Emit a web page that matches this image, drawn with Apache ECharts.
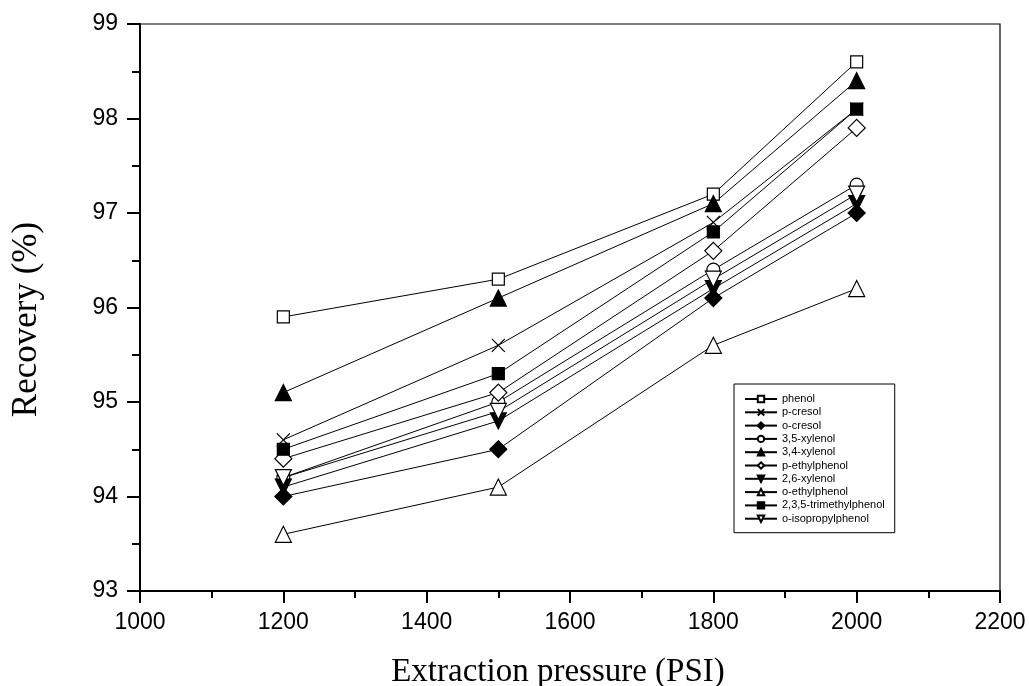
<!DOCTYPE html>
<html>
<head>
<meta charset="utf-8">
<script src="https://cdn.jsdelivr.net/npm/echarts@6/dist/echarts.min.js"></script>
<style>
  html, body { margin: 0; padding: 0; background: #fff; }
  #chart { width: 1030px; height: 686px; }
</style>
</head>
<body>
<div id="chart"></div>
<script>
// Extraction pressure (PSI)
const pressures = [1200, 1500, 1800, 2000];

// Recovery (%) for each compound
const phenol = [95.9, 96.3, 97.2, 98.6];
const pCresol = [94.6, 95.6, 96.9, 98.1];
const oCresol = [94.0, 94.5, 96.1, 97.0];
const xylenol35 = [94.2, 95.0, 96.4, 97.3];
const xylenol34 = [95.1, 96.1, 97.1, 98.4];
const pEthylphenol = [94.4, 95.1, 96.6, 97.9];
const xylenol26 = [94.1, 94.8, 96.2, 97.1];
const oEthylphenol = [93.6, 94.1, 95.6, 96.2];
const trimethylphenol235 = [94.5, 95.3, 96.8, 98.1];
const oIsopropylphenol = [94.2, 94.9, 96.3, 97.2];

const seriesNames = ['phenol', 'p-cresol', 'o-cresol', '3,5-xylenol', '3,4-xylenol',
  'p-ethylphenol', '2,6-xylenol', 'o-ethylphenol', '2,3,5-trimethylphenol', 'o-isopropylphenol'];
const seriesValues = [phenol, pCresol, oCresol, xylenol35, xylenol34,
  pEthylphenol, xylenol26, oEthylphenol, trimethylphenol235, oIsopropylphenol];

// Marker style per compound: [symbol, size, filled]
const CROSS = 'path://M0,0L10,10M10,0L0,10';
const DOWN = 'path://M0,0L10,0L5,9Z';
const markers = [
  ['rect', 12, false],
  [CROSS, 13, false],
  ['diamond', 17, true],
  ['circle', 13, false],
  ['triangle', 16, true],
  ['diamond', 17, false],
  [DOWN, 16, true],
  ['triangle', 16, false],
  ['rect', 12, true],
  [DOWN, 16, false]
];

const series = seriesNames.map((name, i) => {
  const [symbol, size, filled] = markers[i];
  return {
    name: name,
    type: 'line',
    data: pressures.map((p, j) => [p, seriesValues[i][j]]),
    symbol: symbol,
    symbolSize: size,
    showAllSymbol: true,
    lineStyle: { color: '#000', width: 1 },
    itemStyle: {
      color: filled ? '#000' : '#fff',
      borderColor: '#000',
      borderWidth: 1.2
    },
    emphasis: { disabled: true },
    animation: false
  };
});

const chart = echarts.init(document.getElementById('chart'));
chart.setOption({
  backgroundColor: '#fff',
  animation: false,
  grid: {
    left: 140, right: 30, top: 24, bottom: 95,
    outerBoundsMode: 'none',
    containLabel: false,
    show: true, borderColor: '#000', borderWidth: 1.2, backgroundColor: 'transparent'
  },
  legend: {
    orient: 'vertical',
    left: 734, top: 384,
    backgroundColor: '#fff',
    borderColor: '#000', borderWidth: 1,
    padding: [9, 10, 8, 10],
    itemWidth: 32, itemHeight: 8, itemGap: 1.3,
    textStyle: { fontFamily: 'Liberation Sans', fontSize: 11, color: '#000', lineHeight: 12 },
    data: seriesNames
  },
  xAxis: {
    type: 'value',
    min: 1000, max: 2200, interval: 200,
    name: 'Extraction pressure (PSI)',
    nameLocation: 'middle',
    nameGap: 65,
    nameTextStyle: { fontFamily: 'Liberation Serif', fontSize: 33, color: '#000', padding: [0, 24, 0, 0] },
    axisLine: { show: true, onZero: false, lineStyle: { color: '#000', width: 2 } },
    axisTick: { show: true, inside: false, length: 12, lineStyle: { color: '#000', width: 2 } },
    minorTick: { show: true, splitNumber: 2, length: 7, lineStyle: { color: '#000', width: 2 } },
    splitLine: { show: false },
    axisLabel: {
      margin: 20, fontFamily: 'Liberation Sans', fontSize: 23, color: '#000',
      formatter: v => String(v)
    }
  },
  yAxis: {
    type: 'value',
    min: 93, max: 99, interval: 1,
    name: 'Recovery (%)',
    nameLocation: 'middle',
    nameGap: 96,
    nameTextStyle: { fontFamily: 'Liberation Serif', fontSize: 35, color: '#000', padding: [0, 24, 0, 0] },
    axisLine: { show: true, onZero: false, lineStyle: { color: '#000', width: 2 } },
    axisTick: { show: true, inside: false, length: 13, lineStyle: { color: '#000', width: 2 } },
    minorTick: { show: true, splitNumber: 2, length: 8, lineStyle: { color: '#000', width: 2 } },
    splitLine: { show: false },
    axisLabel: { margin: 22, fontFamily: 'Liberation Sans', fontSize: 23, color: '#000' }
  },
  series: series
});
</script>
</body>
</html>
